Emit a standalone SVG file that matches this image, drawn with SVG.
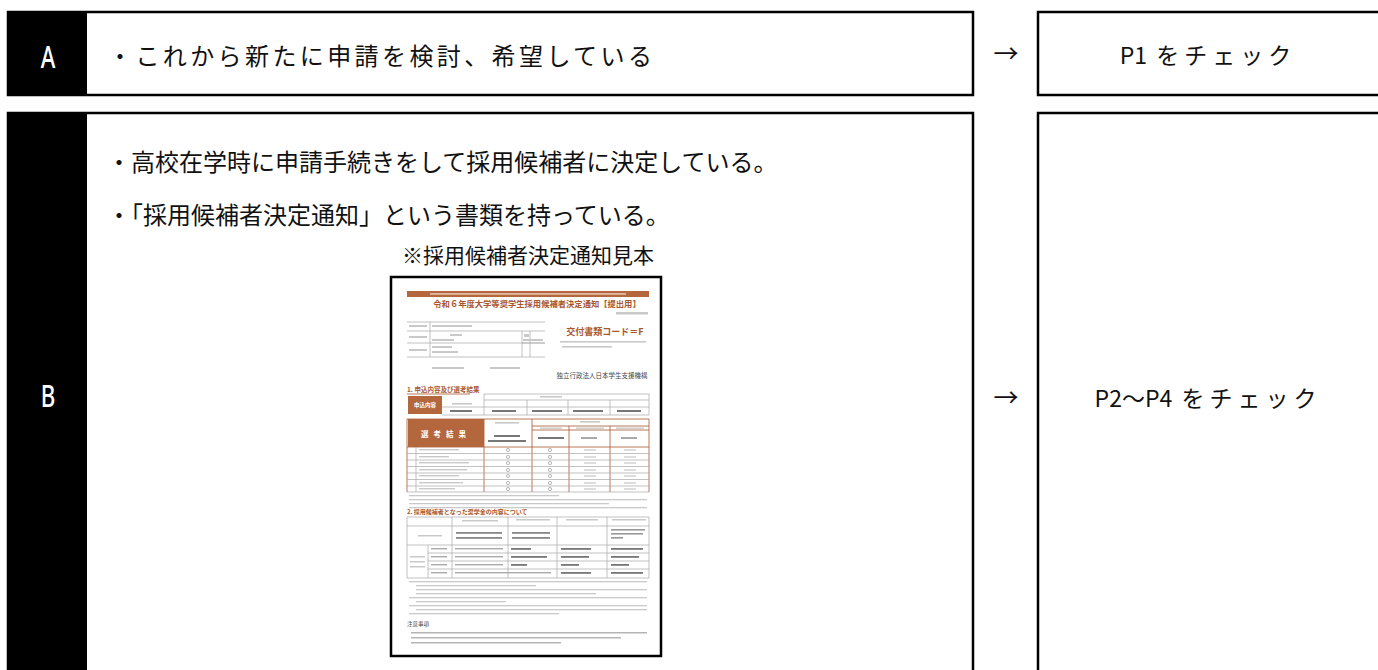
<svg xmlns="http://www.w3.org/2000/svg" width="1378" height="670" viewBox="0 0 1378 670">
<style>
.box{fill:#fff;stroke:#000;stroke-width:2.5}
.tab{fill:#000}
.tabtxt{font-family:"Noto Sans","Noto Sans CJK JP",sans-serif;font-size:31px;font-weight:500;fill:#fff;text-anchor:middle;dominant-baseline:central}
.t{font-family:"Noto Sans CJK JP","Noto Sans",sans-serif;font-size:24px;fill:#111;dominant-baseline:central}
.cap{font-family:"Noto Sans CJK JP","Noto Sans",sans-serif;font-size:21px;fill:#111;text-anchor:middle;dominant-baseline:central}
.res{font-family:"Noto Sans CJK JP","Noto Sans",sans-serif;font-size:23px;fill:#111;text-anchor:middle;dominant-baseline:central}
.arr{font-family:"Noto Sans CJK JP",sans-serif;font-size:25px;font-weight:400;fill:#111;text-anchor:middle;dominant-baseline:central}
.doc{fill:#fff;stroke:#000;stroke-width:2.5}
.br{fill:#b4663d}
.bt{font-family:"Noto Sans CJK JP",sans-serif;font-weight:bold;fill:#a9572e}
.gl{fill:#c9c9c9}
.ln{stroke:#a8a8a8;stroke-width:0.7;fill:none}
.bln{stroke:#a9572e;stroke-width:0.8;fill:none}
.wt{font-family:"Noto Sans CJK JP",sans-serif;font-weight:bold;fill:#fff;text-anchor:middle;dominant-baseline:central}
.dk{font-family:"Noto Sans CJK JP",sans-serif;fill:#444}
</style>

<g id="rowA">
  <rect class="box" x="8" y="12" width="965" height="83"/>
  <rect class="tab" x="8" y="12" width="79" height="83"/>
  <text class="tabtxt" transform="translate(48,56) scale(0.72,1)" x="0" y="0">A</text>
  <text class="t" x="108" y="54" letter-spacing="3.4">・これから新たに申請を検討、希望している</text>
</g>

<g id="resultA">
  <rect class="box" x="1038" y="12" width="360" height="83"/>
  <text class="res" x="1208" y="54">P1 <tspan dx="4" letter-spacing="5">をチェック</tspan></text>
</g>

<g id="rowB">
  <rect class="box" x="8" y="113" width="965" height="580"/>
  <rect class="tab" x="8" y="113" width="79" height="570"/>
  <text class="tabtxt" transform="translate(48,395) scale(0.72,1)" x="0" y="0">B</text>
  <text class="t" x="107" y="160">・高校在学時に申請手続きをして採用候補者に決定している。</text>
  <text class="t" x="107" y="213">・「採用候補者決定通知」という書類を持っている。</text>
  <text class="cap" x="528" y="254">※採用候補者決定通知見本</text>

  <g id="sample">
    <rect class="doc" x="391" y="277" width="270" height="379"/>
    <rect class="br" x="407" y="291" width="242" height="6"/>
    <rect x="430" y="293.3" width="196" height="1.3" fill="#f3d9cb"/>
    <text class="bt" x="537" y="307" font-size="8.3" text-anchor="middle">令和６年度大学等奨学生採用候補者決定通知【提出用】</text>
    <rect class="gl" x="616" y="312" width="32" height="2.5"/>

    <path class="ln" d="M407 322H545M407 331H545M407 343H545M407 357H545M430 322V357M522 331V357M530 331V357M522 343H545"/>
    <rect class="gl" x="409" y="325" width="18" height="2"/>
    <rect class="gl" x="432" y="325" width="40" height="2"/>
    <rect class="gl" x="409" y="336" width="18" height="2"/>
    <rect class="gl" x="450" y="334" width="12" height="2"/>
    <rect class="gl" x="432" y="339" width="22" height="2"/>
    <rect class="gl" x="409" y="349" width="18" height="2"/>
    <rect class="gl" x="432" y="346" width="20" height="2"/>
    <rect class="gl" x="432" y="351" width="26" height="2"/>
    <rect class="gl" x="524" y="334" width="5" height="3"/>
    <rect class="gl" x="523" y="339" width="20" height="2"/>
    <rect class="gl" x="432" y="367" width="32" height="2"/>
    <rect class="gl" x="490" y="367" width="30" height="2"/>
    <text class="bt" x="605" y="335" font-size="9" text-anchor="middle">交付書類コード＝F</text>
    <rect class="gl" x="560" y="341" width="86" height="1.6"/>
    <rect class="gl" x="562" y="346" width="50" height="1.6"/>
    <text class="dk" x="602" y="378" font-size="6.5" text-anchor="middle" fill="#888">独立行政法人日本学生支援機構</text>

    <text class="bt" x="407" y="392" font-size="6.5">1. 申込内容及び選考結果</text>
    <path class="bln" d="M407 394H470"/>
    <path class="ln" d="M484 394H649M484 400H649M442 407H649M442 415H649M484 394V415M527 400V415M568 400V415M610 400V415M649 394V415"/>
    <rect class="br" x="408" y="396" width="34" height="18"/>
    <text class="wt" x="425" y="405" font-size="5.5">申込内容</text>
    <rect class="gl" x="452" y="403" width="20" height="1.6"/>
    <rect class="gl" x="540" y="396" width="22" height="1.6"/>
    <rect x="450" y="410" width="22" height="2" fill="#777"/>
    <rect x="492" y="410" width="24" height="2" fill="#777"/>
    <rect x="532" y="410" width="30" height="2" fill="#777"/>
    <rect x="573" y="410" width="30" height="2" fill="#777"/>
    <rect x="617" y="410" width="24" height="2" fill="#777"/>

    <path class="bln" d="M407 419H649M407 419V492M649 419V492M484 419V492M532 419V492M569 426V492M610 426V492M532 426H649M532 430H649M407 447H649"/>
    <path class="ln" d="M407 453.5H649M407 460H649M407 466.5H649M407 473H649M407 479.5H649M407 486H649M407 492H649M416 447V492"/>
    <rect class="br" x="408" y="419" width="76" height="28"/>
    <text class="wt" x="446" y="433" font-size="7.5" letter-spacing="5">選考結果</text>
    <rect class="gl" x="495" y="422" width="24" height="1.6"/>
    <rect class="gl" x="580" y="421" width="20" height="1.6"/>
    <rect class="gl" x="540" y="427.5" width="22" height="1.3"/>
    <rect class="gl" x="576" y="427.5" width="28" height="1.3"/>
    <rect class="gl" x="616" y="427.5" width="28" height="1.3"/>
    <rect x="494" y="435" width="26" height="2" fill="#777"/>
    <rect x="488" y="440" width="38" height="2" fill="#777"/>
    <rect x="538" y="437" width="26" height="2" fill="#777"/>
    <path d="M581 438H597M621 438H637" stroke="#555" stroke-width="1"/>
    <g fill="none" stroke="#999" stroke-width="0.7">
      <circle cx="508" cy="450" r="1.6"/><circle cx="550" cy="450" r="1.6"/>
      <circle cx="508" cy="457" r="1.6"/><circle cx="550" cy="457" r="1.6"/>
      <circle cx="508" cy="463" r="1.6"/><circle cx="550" cy="463" r="1.6"/>
      <circle cx="508" cy="470" r="1.6"/><circle cx="550" cy="470" r="1.6"/>
      <circle cx="508" cy="476" r="1.6"/><circle cx="550" cy="476" r="1.6"/>
      <circle cx="508" cy="483" r="1.6"/><circle cx="550" cy="483" r="1.6"/>
      <circle cx="508" cy="489" r="1.6"/><circle cx="550" cy="489" r="1.6"/>
    </g>
    <path d="M584 450H596M624 450H636M584 457H596M624 457H636M584 463H596M624 463H636M584 470H596M624 470H636M584 476H596M624 476H636M584 483H596M624 483H636M584 489H596M624 489H636" stroke="#aaa" stroke-width="0.8"/>
    <rect class="gl" x="419" y="449" width="40" height="1.4"/>
    <rect class="gl" x="419" y="456" width="30" height="1.4"/>
    <rect class="gl" x="419" y="462" width="50" height="1.4"/>
    <rect class="gl" x="419" y="469" width="48" height="1.4"/>
    <rect class="gl" x="419" y="475" width="40" height="1.4"/>
    <rect class="gl" x="419" y="482" width="44" height="1.4"/>
    <rect class="gl" x="419" y="488" width="36" height="1.4"/>

    <rect class="gl" x="409" y="495" width="150" height="1.3"/>
    <rect class="gl" x="409" y="499" width="238" height="1.3"/>
    <rect class="gl" x="409" y="503" width="200" height="1.3"/>
    <rect class="gl" x="409" y="507" width="238" height="1.3"/>

    <text class="bt" x="407" y="514" font-size="6">2. 採用候補者となった奨学金の内容について</text>
    <path class="ln" d="M407 517H649M407 526H649M407 545H649M428 553H649M428 561H649M428 569H649M407 578H649M407 517V578M452 517V578M508 517V578M557 517V578M607 517V578M649 517V578M428 545V578"/>
    <rect class="gl" x="462" y="520" width="36" height="1.5"/>
    <rect class="gl" x="516" y="519" width="34" height="1.5"/>
    <rect class="gl" x="566" y="519" width="32" height="1.5"/>
    <rect class="gl" x="612" y="519" width="34" height="1.5"/>
    <rect class="gl" x="418" y="535" width="24" height="1.5"/>
    <rect x="456" y="532" width="46" height="1.8" fill="#888"/>
    <rect x="456" y="537" width="46" height="1.8" fill="#888"/>
    <rect x="512" y="532" width="38" height="1.8" fill="#888"/>
    <rect x="512" y="537" width="38" height="1.8" fill="#888"/>
    <rect x="611" y="529" width="34" height="1.6" fill="#999"/>
    <rect x="611" y="533" width="32" height="1.6" fill="#999"/>
    <rect x="611" y="537" width="12" height="1.6" fill="#999"/>
    <rect class="gl" x="410" y="556" width="15" height="1.5"/>
    <rect class="gl" x="410" y="561" width="15" height="1.5"/>
    <rect class="gl" x="410" y="566" width="15" height="1.5"/>
    <g fill="#aaa">
      <rect x="431" y="548" width="16" height="1.4"/><rect x="455" y="548" width="48" height="1.4"/>
      <rect x="431" y="556" width="16" height="1.4"/><rect x="455" y="556" width="48" height="1.4"/>
      <rect x="431" y="564" width="16" height="1.4"/><rect x="455" y="564" width="48" height="1.4"/>
      <rect x="431" y="572" width="16" height="1.4"/><rect x="455" y="572" width="96" height="1.4"/>
    </g>
    <g fill="#777">
      <rect x="511" y="548" width="20" height="1.8"/><rect x="561" y="548" width="30" height="1.8"/><rect x="611" y="548" width="32" height="1.8"/>
      <rect x="511" y="556" width="36" height="1.8"/><rect x="561" y="556" width="28" height="1.8"/><rect x="611" y="556" width="28" height="1.8"/>
      <rect x="511" y="564" width="16" height="1.8"/><rect x="561" y="564" width="18" height="1.8"/><rect x="611" y="564" width="18" height="1.8"/>
      <rect x="561" y="572" width="30" height="1.8"/><rect x="611" y="572" width="32" height="1.8"/>
    </g>

    <g class="gl">
      <rect x="409" y="581" width="238" height="1.3"/>
      <rect x="416" y="585" width="120" height="1.3"/>
      <rect x="416" y="589" width="231" height="1.3"/>
      <rect x="416" y="593" width="180" height="1.3"/>
      <rect x="409" y="597" width="238" height="1.3"/>
      <rect x="416" y="601" width="90" height="1.3"/>
      <rect x="409" y="605" width="238" height="1.3"/>
      <rect x="416" y="609" width="231" height="1.3"/>
      <rect x="409" y="613" width="150" height="1.3"/>
    </g>
    <text class="dk" x="407" y="626" font-size="5.5">注意事項</text>
    <g fill="#b5b5b5">
      <rect x="411" y="632" width="236" height="1.5"/>
      <rect x="411" y="637" width="210" height="1.5"/>
      <rect x="411" y="642" width="150" height="1.5"/>
    </g>
  </g>
</g>

<g id="resultB">
  <rect class="box" x="1038" y="113" width="360" height="580"/>
  <text class="res" x="1208" y="397">P2～P4 <tspan dx="4" letter-spacing="5">をチェック</tspan></text>
</g>

<g id="connectors">
  <text class="arr" x="1006" y="52">→</text>
  <text class="arr" x="1006" y="396">→</text>
</g>
</svg>
